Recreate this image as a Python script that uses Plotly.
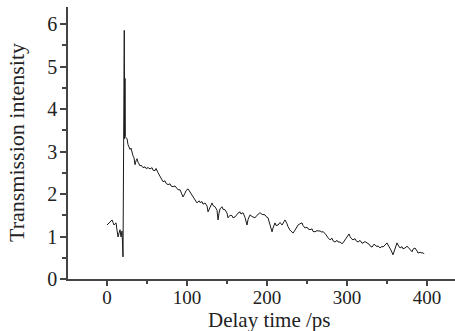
import plotly.graph_objects as go

# Delay time (ps) and transmission intensity
delay_ps = [0, 1.9, 3.8, 6.3, 7.5, 8.8, 10, 11.3, 12.5, 13.8, 15, 16.3, 17.5, 18.8, 20,
            20.6, 21.6, 22.0, 22.5, 22.9, 23.8, 25, 26.3, 27.5, 28.8, 30, 31.3, 32.5, 33.8,
            35, 36.3, 37.5, 38.8, 40, 41.3, 42.5, 43.8, 45, 47.5, 48.8, 51.3, 53.8, 56.3,
            57.5, 60, 61.3, 63.8, 66.3, 67.5, 70, 72.5, 73.8, 76.3, 78.8, 80, 82.5, 85,
            87.5, 88.8, 91.3, 92.5, 95, 97.5, 98.8, 101.3, 103.8, 105, 107.5, 110, 112.5,
            115, 116.3, 118.8, 120, 122.5, 125, 126.3, 128.8, 131.3, 132.5, 135, 137.5,
            138.8, 140, 141.3, 143.8, 145, 147.5, 150, 151.3, 153.8, 156.3, 157.5, 160,
            162.5, 163.8, 166.3, 167.5, 170, 172.5, 175, 176.3, 178.8, 181.3, 185, 187.5,
            191.3, 193.8, 197.5, 198.8, 201.3, 203.8, 206.3, 207.5, 210, 211.3, 213.8,
            216.3, 218.8, 221.3, 222.5, 225, 226.3, 228.8, 230, 232.5, 235, 237.5, 238.8,
            241.3, 243.8, 245, 247.5, 250, 251.3, 253.8, 256.3, 257.5, 260, 262.5, 263.8,
            266.3, 268.8, 270, 272.5, 273.8, 276.3, 278.8, 281.3, 282.5, 285, 287.5, 288.8,
            291.3, 293.8, 295, 297.5, 300, 302.5, 303.8, 305, 307.5, 310, 311.3, 313.8,
            316.3, 318.8, 320, 322.5, 325, 327.5, 328.8, 331.3, 333.8, 335, 337.5, 338.8,
            341.3, 343.8, 345, 347.5, 350, 351.3, 353.8, 355, 357.5, 360, 362.5, 363.8,
            366.3, 368.8, 370, 372.5, 375, 376.3, 378.8, 381.3, 382.5, 385, 387.5, 388.8,
            391.3, 393.8, 395, 396.3]
intensity = [1.27, 1.30, 1.34, 1.39, 1.33, 1.27, 1.30, 1.32, 1.15, 0.99, 1.08, 1.16, 0.99,
             1.13, 0.52, 3.20, 5.85, 3.30, 4.72, 3.35, 3.33, 3.30, 3.16, 3.12, 3.05, 3.08,
             2.97, 2.90, 2.85, 2.69, 2.78, 2.83, 2.75, 2.72, 2.66, 2.68, 2.63, 2.62, 2.64,
             2.60, 2.62, 2.59, 2.62, 2.56, 2.55, 2.60, 2.50, 2.42, 2.38, 2.29, 2.31, 2.25,
             2.22, 2.24, 2.19, 2.17, 2.19, 2.13, 2.10, 2.10, 2.05, 1.93, 2.02, 2.08, 2.12,
             2.05, 2.00, 1.93, 1.88, 1.79, 1.84, 1.80, 1.82, 1.76, 1.79, 1.72, 1.58, 1.68,
             1.79, 1.73, 1.70, 1.62, 1.39, 1.55, 1.65, 1.70, 1.64, 1.63, 1.55, 1.44, 1.50,
             1.49, 1.44, 1.46, 1.52, 1.55, 1.58, 1.53, 1.56, 1.45, 1.27, 1.40, 1.51, 1.47,
             1.44, 1.50, 1.56, 1.52, 1.51, 1.47, 1.44, 1.25, 1.11, 1.20, 1.32, 1.26, 1.27,
             1.33, 1.27, 1.35, 1.39, 1.30, 1.23, 1.15, 1.12, 1.08, 1.15, 1.22, 1.27, 1.30,
             1.32, 1.26, 1.20, 1.22, 1.18, 1.16, 1.18, 1.12, 1.11, 1.14, 1.13, 1.13, 1.10,
             1.12, 1.08, 1.04, 0.97, 0.92, 0.96, 0.90, 0.87, 0.91, 0.87, 0.87, 0.83, 0.85,
             0.92, 0.98, 1.06, 1.00, 0.96, 0.92, 0.95, 0.90, 0.87, 0.91, 0.84, 0.85, 0.88,
             0.85, 0.82, 0.78, 0.75, 0.82, 0.80, 0.76, 0.78, 0.73, 0.77, 0.75, 0.80, 0.85,
             0.80, 0.73, 0.68, 0.57, 0.70, 0.85, 0.80, 0.73, 0.76, 0.71, 0.73, 0.77, 0.75,
             0.70, 0.64, 0.70, 0.73, 0.66, 0.61, 0.63, 0.61, 0.62, 0.59]

x_ticks = [0, 100, 200, 300, 400]
y_ticks = [0, 1, 2, 3, 4, 5, 6]
x_title = "Delay time /ps"
y_title = "Transmission intensity"

FONT = "Liberation Serif"
AX = "#444444"

fig = go.Figure()
fig.add_trace(go.Scatter(x=delay_ps, y=intensity, mode="lines",
                         line=dict(color="#1a1a1a", width=1), showlegend=False))

fig.update_layout(
    width=455, height=331,
    margin=dict(l=68, r=0, t=7, b=52),
    paper_bgcolor="white", plot_bgcolor="white",
    font=dict(family=FONT, size=20, color="#222222"),
    xaxis=dict(range=[-48.75, 435], tickvals=x_ticks, ticks="outside", ticklen=5,
               tickwidth=1.5, tickcolor=AX, showline=True, linecolor=AX, linewidth=1.5,
               showgrid=False, zeroline=False, ticklabelstandoff=-5,
               minor=dict(ticks="outside", ticklen=3, dtick=50, tick0=0,
                          tickcolor=AX, tickwidth=1.5, showgrid=False),
               tickfont=dict(family=FONT, size=19)),
    yaxis=dict(range=[0, 6.4], tickvals=y_ticks, ticks="outside", ticklen=6,
               tickwidth=1.5, tickcolor=AX, showline=True, linecolor=AX, linewidth=1.5,
               showgrid=False, zeroline=False, ticklabelstandoff=-1,
               minor=dict(ticks="outside", ticklen=4, dtick=0.5, tick0=0,
                          tickcolor=AX, tickwidth=1.5, showgrid=False),
               tickfont=dict(family=FONT, size=20)),
    annotations=[
        dict(text=x_title, xref="paper", yref="paper", x=0.52, y=0,
             xanchor="center", yanchor="middle", yshift=-41, showarrow=False,
             font=dict(family=FONT, size=21, color="#222222")),
        dict(text=y_title, xref="paper", yref="paper", x=0, y=0.5, textangle=-90,
             xanchor="center", yanchor="middle", xshift=-52, showarrow=False,
             font=dict(family=FONT, size=22, color="#222222")),
    ],
)

fig.write_html("out.html")
